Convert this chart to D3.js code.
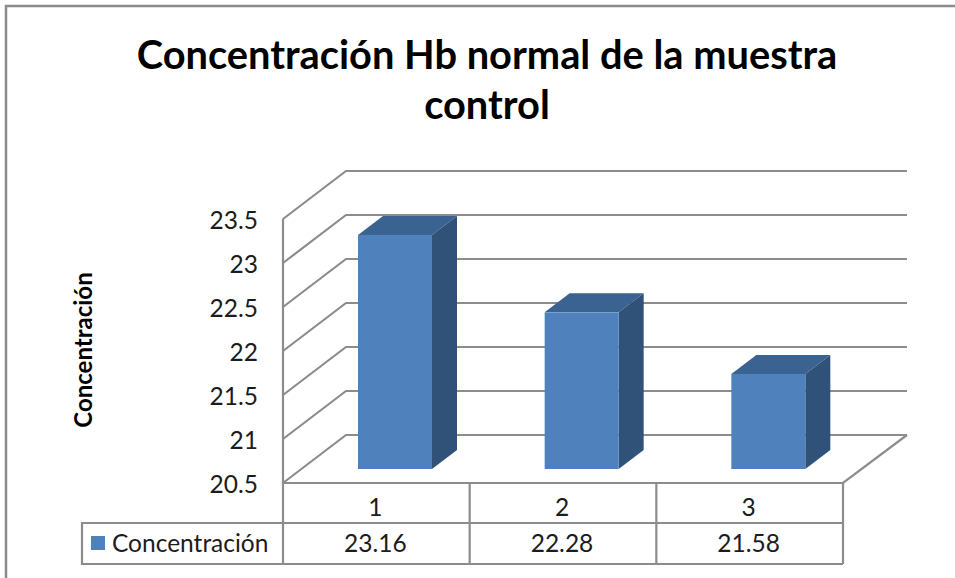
<!DOCTYPE html>
<html>
<head>
<meta charset="utf-8">
<script src="https://cdn.jsdelivr.net/npm/d3@7"></script>
<style>
  html, body { margin: 0; padding: 0; background: #fff; }
  svg { display: block; }
  text { font-family: Lato, "Open Sans", sans-serif; fill: #1c1c1c; }
  text.title, text.ytitle { fill: #000; }
</style>
</head>
<body>
<div id="chart"></div>
<script>
const categories = ["1", "2", "3"];
const values = [23.16, 22.28, 21.58];
const yTicks = [20.5, 21, 21.5, 22, 22.5, 23, 23.5];
const seriesName = "Concentración";
const titleLines = ["Concentración Hb normal de la muestra", "control"];

const width = 955, height = 578;
const gray = "#8c8c8c";

// fake 3d offsets
const wallDx = 63, wallDy = 48;
const barDx = 25, barDy = 19;
const barInsetX = 75, barBaseLift = 14, barWidth = 74;

const svg = d3.select("#chart")
    .append("svg")
    .attr("width", width)
    .attr("height", height);

var x = d3.scaleBand()
    .domain(categories)
    .range([283, 843]);

var y = d3.scaleLinear()
    .domain([20.5, 23.5])
    .range([483, 219]);

// picture border, only top and left are visible
svg.append("path")
    .attr("d", d3.line()([[6, height], [6, 6], [width, 6]]))
    .attr("fill", "none")
    .attr("stroke", gray)
    .attr("stroke-width", 2.5);

// title
svg.selectAll(".title")
    .data(titleLines)
    .enter()
    .append("text")
    .attr("class", "title")
    .attr("x", 487)
    .attr("y", (d, i) => 69 + i * 50)
    .attr("text-anchor", "middle")
    .style("font-size", "39.8px")
    .style("font-weight", "700")
    .text(d => d);

// gridlines running along side wall and back wall
const grid = svg.append("g")
    .attr("fill", "none")
    .attr("stroke", gray)
    .attr("stroke-width", 2.2);

grid.selectAll("path")
    .data(yTicks)
    .enter()
    .append("path")
    .attr("d", d => d3.line()([
        [x.range()[0], y(d)],
        [x.range()[0] + wallDx, y(d) - wallDy],
        [x.range()[1] + wallDx + 1, y(d) - wallDy]
    ]));

// left edge and front of the floor
grid.append("path")
    .attr("d", d3.line()([
        [x.range()[0], y(23.5)],
        [x.range()[0], y(20.5)],
        [x.range()[1], y(20.5)],
        [x.range()[1] + wallDx + 1, y(20.5) - wallDy]
    ]));

// bars
const bars = svg.selectAll(".bar")
    .data(categories.map((c, i) => ({ c: c, v: values[i] })))
    .enter()
    .append("g")
    .attr("class", "bar");

const left = d => x(d.c) + barInsetX;
const right = d => left(d) + barWidth;
const base = y(20.5) - barBaseLift;
const barTop = d => y(d.v) - barBaseLift;

bars.append("path")
    .attr("fill", "#3b6391")
    .attr("d", d => d3.line()([
        [left(d), barTop(d)],
        [left(d) + barDx, barTop(d) - barDy],
        [right(d) + barDx, barTop(d) - barDy],
        [right(d), barTop(d)]
    ]) + "Z");

bars.append("path")
    .attr("fill", "#315278")
    .attr("d", d => d3.line()([
        [right(d), barTop(d)],
        [right(d) + barDx, barTop(d) - barDy],
        [right(d) + barDx, base - barDy],
        [right(d), base]
    ]) + "Z");

bars.append("rect")
    .attr("x", left)
    .attr("y", barTop)
    .attr("width", barWidth)
    .attr("height", d => base - barTop(d))
    .attr("fill", "#4f81bd");

// y axis labels
const yAxis = svg.append("g")
    .attr("transform", "translate(258,2)")
    .call(d3.axisLeft(y).tickValues(yTicks).tickSize(0).tickPadding(0).tickFormat(d => d));
yAxis.select(".domain").remove();
yAxis.selectAll("text")
    .style("font-size", "24.5px")
    .attr("fill", null);

svg.append("text")
    .attr("class", "ytitle")
    .attr("transform", "translate(92,350)rotate(-90)")
    .attr("text-anchor", "middle")
    .style("font-size", "24px")
    .style("font-weight", "700")
    .text(seriesName);

// data table under the plot
const rowTop = 523, rowBottom = 564, tableLeft = 82;
const table = svg.append("g")
    .attr("fill", "none")
    .attr("stroke", gray)
    .attr("stroke-width", 2.2);

table.append("path")
    .attr("d", d3.line()([
        [x.range()[0], rowTop],
        [tableLeft, rowTop],
        [tableLeft, rowBottom],
        [x.range()[1], rowBottom]
    ]));
table.append("path")
    .attr("d", d3.line()([[x.range()[0], rowTop], [x.range()[1], rowTop]]));

table.selectAll(".cell")
    .data(categories.map(c => x(c)).concat(x.range()[1]))
    .enter()
    .append("line")
    .attr("class", "cell")
    .attr("x1", d => d)
    .attr("x2", d => d)
    .attr("y1", y(20.5))
    .attr("y2", rowBottom);

svg.selectAll(".cat")
    .data(categories)
    .enter()
    .append("text")
    .attr("class", "cat")
    .attr("x", d => x(d) + x.bandwidth() / 2 - 1)
    .attr("y", 516)
    .attr("text-anchor", "middle")
    .style("font-size", "24.5px")
    .text(d => d);

svg.selectAll(".val")
    .data(values)
    .enter()
    .append("text")
    .attr("class", "val")
    .attr("x", (d, i) => x(categories[i]) + x.bandwidth() / 2 - 1)
    .attr("y", 552)
    .attr("text-anchor", "middle")
    .style("font-size", "24.5px")
    .text(d => d);

svg.append("rect")
    .attr("x", 91)
    .attr("y", 536)
    .attr("width", 14)
    .attr("height", 14)
    .attr("fill", "#4f81bd");

svg.append("text")
    .attr("x", 112)
    .attr("y", 552)
    .style("font-size", "24.5px")
    .text(seriesName);
</script>
</body>
</html>
